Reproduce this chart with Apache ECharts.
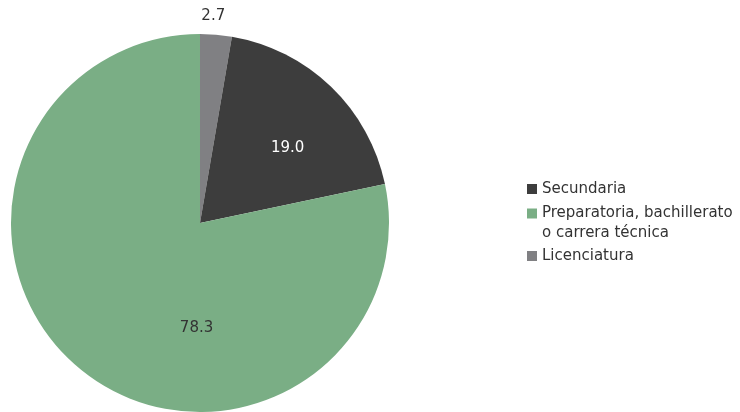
<!DOCTYPE html>
<html>
<head>
<meta charset="utf-8">
<script src="https://cdn.jsdelivr.net/npm/echarts@6/dist/echarts.min.js"></script>
<style>
  html, body { margin: 0; padding: 0; background: #ffffff; }
  #chart { width: 740px; height: 412px; }
</style>
</head>
<body>
<div id="chart"></div>
<script>
// Education level shares (%), drawn clockwise from 12 o'clock
const categories = ['Licenciatura', 'Secundaria', 'Preparatoria, bachillerato\no carrera técnica'];
const values = [2.7, 19.0, 78.3];
// legend entries, top to bottom
const legendOrder = ['Secundaria', 'Preparatoria, bachillerato\no carrera técnica', 'Licenciatura'];

const colors = ['#808083', '#3d3d3d', '#7aae85'];
const labelColors = ['#333333', '#ffffff', '#333333'];
const labelOffsets = [[5, -110], [20, -5], [58, 29]];

const FONT = '"Century Gothic", "DejaVu Sans", sans-serif';
const legendText = { fontFamily: FONT, fontSize: 15, color: '#333333', lineHeight: 20 };
const legendTops = [179, 193, 246];

const chart = echarts.init(document.getElementById('chart'), null, { renderer: 'canvas' });

// one legend block per entry; the two-line entry uses a tall first line and a flat
// second line so its marker sits beside the first line
const legends = legendOrder.map((name, i) => {
  const multiLine = name.indexOf('\n') >= 0;
  const block = {
    orient: 'vertical',
    left: 527,
    top: legendTops[i],
    itemWidth: 10,
    itemHeight: 10,
    icon: 'rect',
    padding: 0,
    textStyle: Object.assign({}, legendText),
    data: [name]
  };
  if (multiLine) {
    block.formatter = (n) => {
      const parts = n.split('\n');
      return '{first|' + parts[0] + '}\n{second|' + parts[1] + '}';
    };
    block.textStyle.rich = {
      first: { fontFamily: FONT, fontSize: 15, color: '#333333', lineHeight: 40 },
      second: { fontFamily: FONT, fontSize: 15, color: '#333333', lineHeight: 1 }
    };
  }
  return block;
});

chart.setOption({
  animation: false,
  backgroundColor: '#ffffff',
  legend: legends,
  series: [{
    type: 'pie',
    center: [200, 223],
    radius: [0, 189],
    startAngle: 90,
    clockwise: true,
    avoidLabelOverlap: false,
    labelLine: { show: false },
    itemStyle: { borderWidth: 0 },
    data: categories.map((name, i) => ({
      name: name,
      value: values[i],
      itemStyle: { color: colors[i] },
      label: {
        show: true,
        position: 'inside',
        offset: labelOffsets[i],
        formatter: values[i].toFixed(1),
        color: labelColors[i],
        fontFamily: FONT,
        fontSize: 15
      }
    }))
  }]
});
</script>
</body>
</html>
